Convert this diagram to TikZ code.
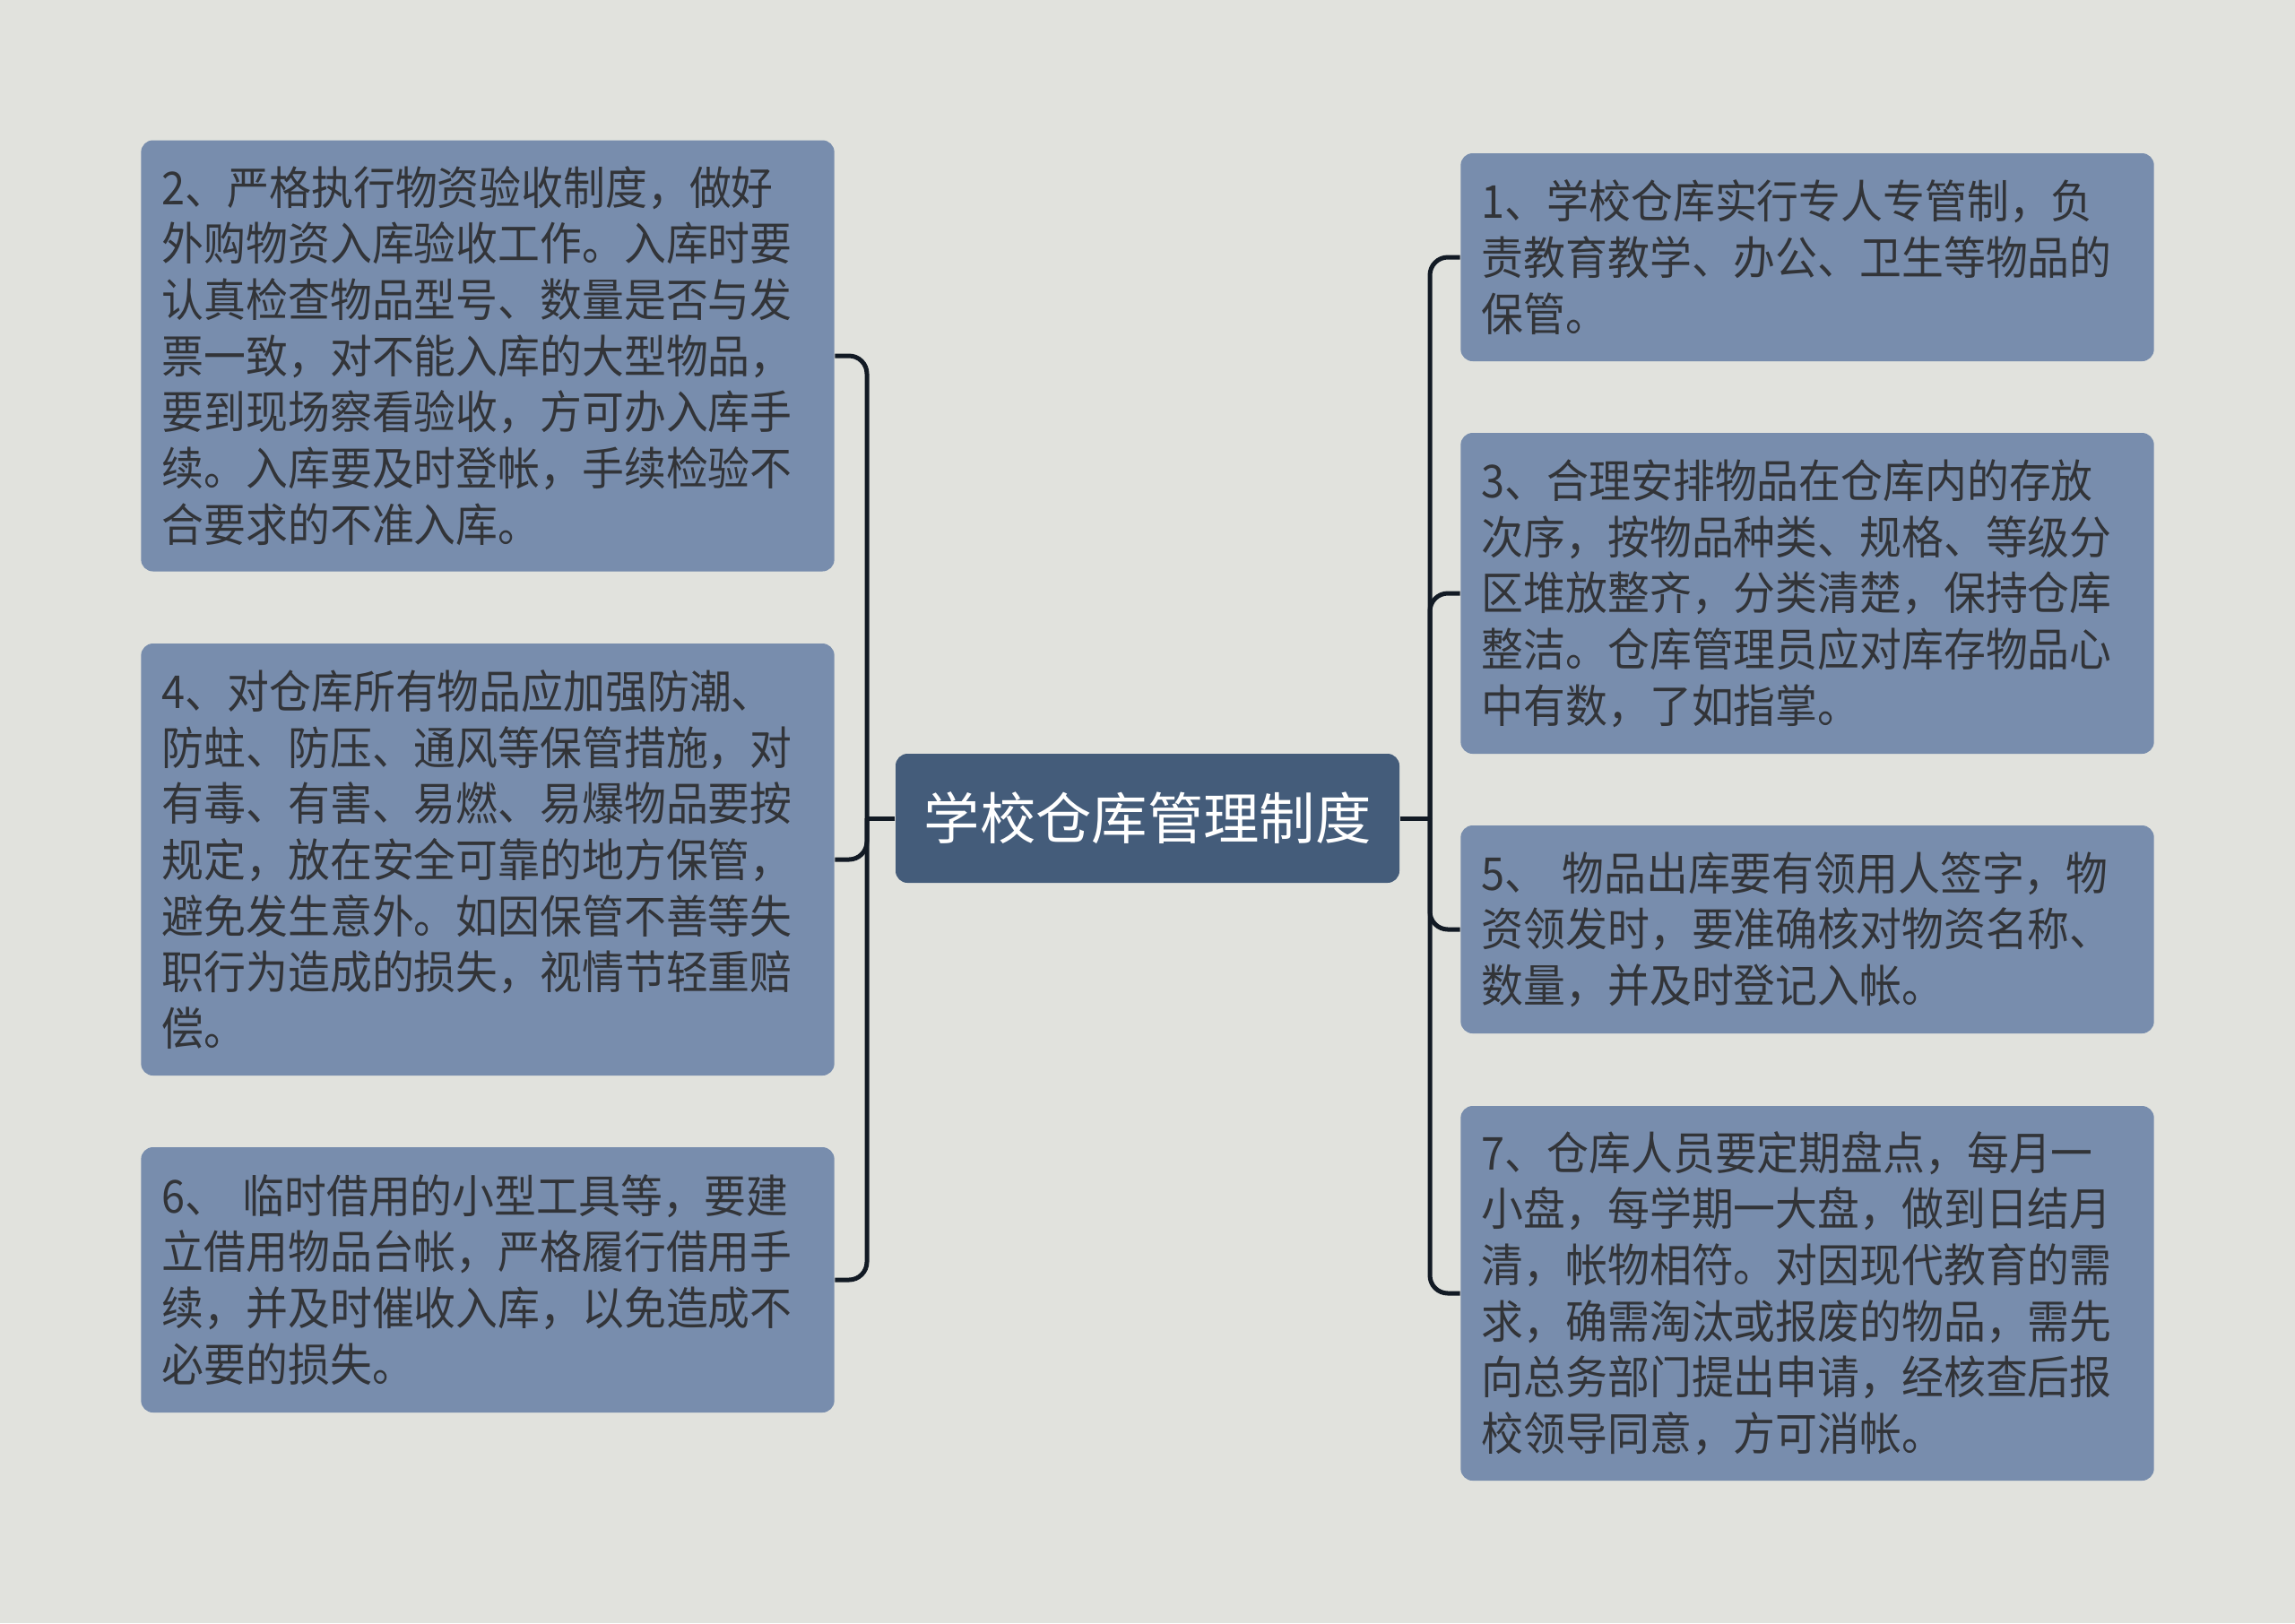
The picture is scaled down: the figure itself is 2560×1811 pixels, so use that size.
\documentclass[tikz,border=0pt]{standalone}
\usepackage{fontspec}
\newfontfamily\cjk{Noto Sans CJK SC}
\newfontfamily\cjknarrow[FakeStretch=0.925]{Noto Sans CJK SC}
\definecolor{bgcol}{RGB}{225,226,221}
\definecolor{leafcol}{RGB}{120,141,173}
\definecolor{rootcol}{RGB}{68,92,122}
\definecolor{txtcol}{RGB}{50,52,56}
\definecolor{linecol}{RGB}{18,26,36}
\tikzset{
  leaf/.style={fill=leafcol, rounded corners=4pt, text width=218pt, align=left,
    inner xsep=7pt, inner ysep=6pt, text=txtcol, font=\cjknarrow\fontsize{15.2}{18.8}\selectfont},
  root/.style={fill=rootcol, rounded corners=4pt, minimum width=168.6pt, minimum height=43.2pt,
    text=white, font=\cjk\fontsize{18.7}{22}\selectfont},
  conn/.style={draw=linecol, line width=1.5pt, rounded corners=6pt},
}
\begin{document}
\begin{tikzpicture}[x=0.3pt,y=0.3pt,yscale=-1,xscale=1]
\useasboundingbox (0,0) rectangle (2560,1811);
\fill[bgcol] (0,0) rectangle (2560,1811);

%Shape: root
\node[root] (root) at (1280,913) {学校仓库管理制度};

%Shape: left leaves
\node[leaf, minimum height=144.3pt] (n2) at (544,397) {2、严格执行物资验收制度，做好\\外购物资入库验收工作。入库时要\\认真检查物品型号、数量是否与发\\票一致，对不能入库的大型物品，\\要到现场察看验收，方可办入库手\\续。入库要及时登帐，手续检验不\\合要求的不准入库。};
\node[leaf, minimum height=144.6pt] (n4) at (544,959) {4、对仓库所有物品应加强防潮、\\防蛀、防压、通风等保管措施，对\\有毒、有害、易燃、易爆物品要按\\规定，放在安全可靠的地方保管，\\避免发生意外。如因保管不善等失\\职行为造成的损失，视情节轻重赔\\偿。};
\node[leaf, minimum height=88.8pt] (n6) at (544,1428) {6、~临时借用的小型工具等，要建\\立借用物品台帐，严格履行借用手\\续，并及时催收入库，以免造成不\\必要的损失。};

%Shape: right leaves
\node[leaf, minimum height=69.6pt] (n1) at (2016,287) {1、学校仓库实行专人专管制，负\\责教育教学、办公、卫生等物品的\\保管。};
\node[leaf, minimum height=107.4pt] (n3) at (2016,662) {3、合理安排物品在仓库内的存放\\次序，按物品种类、规格、等级分\\区堆放整齐，分类清楚，保持仓库\\整洁。仓库管理员应对库存物品心\\中有数，了如指掌。};
\node[leaf, minimum height=69.6pt] (n5) at (2016,1037) {5、~物品出库要有领用人签字，物\\资领发时，要准确核对物资名称、\\数量，并及时登记入帐。};
\node[leaf, minimum height=125.4pt] (n7) at (2016,1443) {7、仓库人员要定期盘点，每月一\\小盘，每学期一大盘，做到日结月\\清，帐物相符。对因现代教育的需\\求，确需淘汰或报废的物品，需先\\向总务部门提出申请，经核查后报\\校领导同意，方可消帐。};

%Straight Lines: left branch
\coordinate (lbus) at (967,913);
\draw[conn] (root.west) -- (lbus);
\foreach \n in {n2,n4,n6} \draw[conn] (lbus) |- (\n.east);

%Straight Lines: right branch
\coordinate (rbus) at (1595,913);
\draw[conn] (root.east) -- (rbus);
\foreach \n in {n1,n3,n5,n7} \draw[conn] (rbus) |- (\n.west);

\end{tikzpicture}
\end{document}
